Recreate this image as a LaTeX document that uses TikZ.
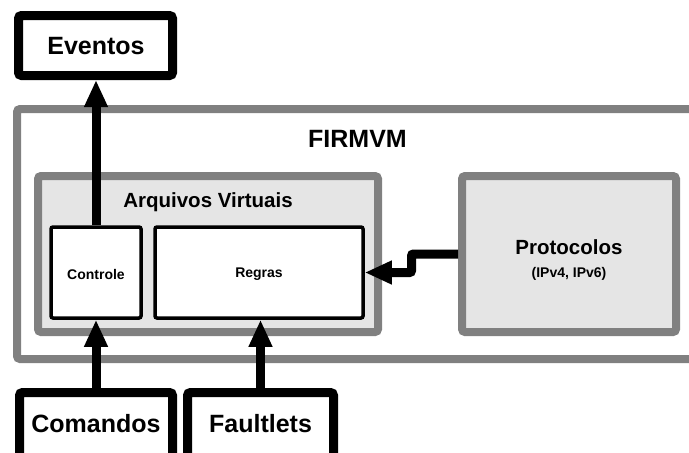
\documentclass[tikz,border=0pt]{standalone}
\usepackage{fontspec}
\setmainfont{Liberation Sans}
\usetikzlibrary{arrows.meta}
\definecolor{boxgray}{HTML}{808080}
\definecolor{lightfill}{HTML}{E5E5E5}
\tikzset{
  blackbox/.style={draw=black, line width=9pt, fill=white, rounded corners=3pt, inner sep=0pt},
  smallbox/.style={draw=black, line width=3.5pt, fill=white, rounded corners=2pt, inner sep=0pt},
  graybox/.style={draw=boxgray, line width=8pt, rounded corners=3pt, inner sep=0pt},
  bigtxt/.style={font=\fontsize{25}{30}\selectfont\bfseries, inner sep=0pt},
  midtxt/.style={font=\fontsize{20.5}{24}\selectfont\bfseries, inner sep=0pt},
  smalltxt/.style={font=\fontsize{14}{17}\selectfont\bfseries, inner sep=0pt},
  conn/.style={line width=9pt, -{Triangle[length=27pt,width=22pt]}},
}
\begin{document}
\begin{tikzpicture}[x=1pt,y=-1pt]
\clip (0,0) rectangle (689,453);
\fill[white] (0,0) rectangle (689,453);
% FIRMVM outer box
\node[graybox, fill=white, minimum width=703pt, minimum height=250pt] (firm) at (368.5,234) {};
\node[bigtxt] (firmtxt) at (357.5,139) {FIRMVM};
% Arquivos Virtuais
\node[graybox, fill=lightfill, minimum width=340pt, minimum height=156pt] (arq) at (208,254) {};
\node[midtxt] (arqtxt) at (208,202) {Arquivos Virtuais};
% Protocolos
\node[graybox, fill=lightfill, minimum width=214pt, minimum height=156pt] (proto) at (569,254) {};
\node[midtxt] (prototxt) at (569,247) {Protocolos};
\node[smalltxt] (ipv) at (569,274) {(IPv4, IPv6)};
% Controle, Regras
\node[smallbox, minimum width=90pt, minimum height=91pt] (controle) at (96,272.5) {};
\node[smalltxt] (controletxt) at (96,274) {Controle};
\node[smallbox, minimum width=208pt, minimum height=91pt] (regras) at (259,272.5) {};
\node[smalltxt] (regrastxt) at (259,274) {Regras};
% Eventos
\node[blackbox, minimum width=154pt, minimum height=60pt] (eventos) at (95.5,45.5) {};
\node[bigtxt] (eventostxt) at (96,46) {Eventos};
% Comandos, Faultlets
\node[blackbox, minimum width=153pt, minimum height=70pt] (comandos) at (96,427.5) {};
\node[bigtxt] (comandostxt) at (96,424) {Comandos};
\node[blackbox, minimum width=146pt, minimum height=70pt] (faultlets) at (260.5,427.5) {};
\node[bigtxt] (faultletstxt) at (260.5,424) {Faultlets};
% connectors
\draw[conn] (controle.north) -- (controle.north |- eventos.south);
\draw[conn] (comandos.north) -- (comandos.north |- controle.south);
\draw[conn] (faultlets.north) -- (faultlets.north |- regras.south);
\draw[conn, rounded corners=2pt] (proto.west) -- (411.5,254) -- (411.5,272.5) -- (regras.east);
\end{tikzpicture}
\end{document}
